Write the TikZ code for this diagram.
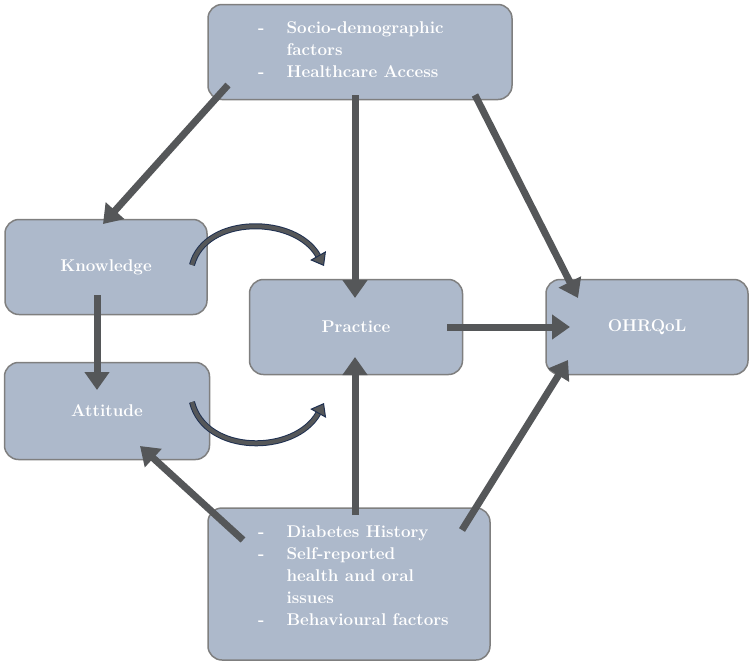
\documentclass[tikz,border=0pt]{standalone}
\usepackage{tikz}
\usetikzlibrary{arrows.meta,positioning}
\definecolor{boxfill}{HTML}{ADB9CB}
\definecolor{boxline}{HTML}{7F7F7F}
\definecolor{arrgray}{HTML}{555759}
\definecolor{navy}{HTML}{1F3050}
\newcommand{\boxfont}{\bfseries\fontsize{17}{22}\selectfont}
\tikzset{
  factor/.style={draw=boxline,line width=1.5pt,fill=boxfill,rounded corners=14pt,
    text=white,font=\boxfont,inner sep=0pt},
  bigarr/.style={draw=arrgray,line width=7pt,-{Triangle[length=18pt,width=24pt]}},
  bendarr/.style={draw=navy,double=arrgray,double distance=4pt,line width=1pt,
    -{Triangle[length=12pt,width=18pt,fill=arrgray]}}
}
\begin{document}
\begin{tikzpicture}[x=1pt,y=-1pt]
\useasboundingbox (0,0) rectangle (753,665);
\node[factor,minimum width=304pt,minimum height=95pt] (soc) at (360,52) {};
\node[factor,minimum width=202pt,minimum height=95pt] (know) at (106,267) {Knowledge};
\node[factor,minimum width=205pt,minimum height=97pt] (att) at (107,411) {Attitude};
\node[factor,minimum width=213pt,minimum height=95pt] (prac) at (356,327) {Practice};
\node[factor,minimum width=202pt,minimum height=95pt] (ohr) at (647,327) {OHRQoL};
\node[factor,minimum width=282pt,minimum height=152pt] (hist) at (349,584) {};
% box texts
\node[text=white,font=\boxfont,anchor=north west,align=left,inner sep=0pt] (soct) at (258,18)
  {\begin{tabular}{@{}l@{\hspace{22pt}}l@{}}-&Socio-demographic\\&factors\\-&Healthcare Access\end{tabular}};
\node[text=white,font=\boxfont,anchor=north west,align=left,inner sep=0pt] (histt) at (258,522)
  {\begin{tabular}{@{}l@{\hspace{22pt}}l@{}}-&Diabetes History\\-&Self-reported\\&health and oral\\&issues\\-&Behavioural factors\end{tabular}};
% end points
\coordinate (s1) at (228,85);  \coordinate (k1) at (103,224);
\coordinate (s2) at (355,95);  \coordinate (p1) at (355,298);
\coordinate (s3) at (475,95);  \coordinate (o1) at (578,298);
\coordinate (k2) at (97,295);  \coordinate (a1) at (97,390);
\coordinate (p2) at (447,327); \coordinate (o2) at (570,327);
\coordinate (h1) at (355,515); \coordinate (p3) at (355,357);
\coordinate (h2) at (243,540); \coordinate (a2) at (140,446);
\coordinate (h3) at (462,530); \coordinate (o3) at (568,360);
\coordinate (k3) at (192,265); \coordinate (p4) at (324,266);
\coordinate (a3) at (192,402); \coordinate (p5) at (324,403);
\draw[bigarr] (s1) -- (k1);
\draw[bigarr] (s2) -- (p1);
\draw[bigarr] (s3) -- (o1);
\draw[bigarr] (k2) -- (a1);
\draw[bigarr] (p2) -- (o2);
\draw[bigarr] (h1) -- (p3);
\draw[bigarr] (h2) -- (a2);
\draw[bigarr] (h3) -- (o3);
\draw[bendarr] (k3) .. controls (205,215) and (295,215) .. (p4);
\draw[bendarr] (a3) .. controls (205,455) and (295,455) .. (p5);
\end{tikzpicture}
\end{document}
